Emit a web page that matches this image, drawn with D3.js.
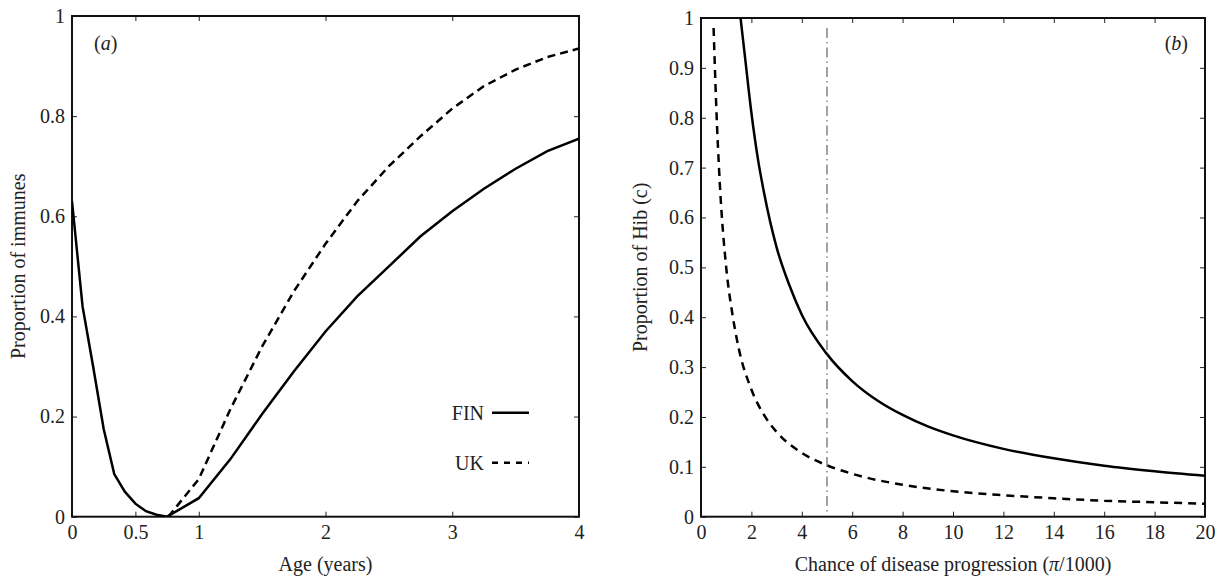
<!DOCTYPE html>
<html>
<head>
<meta charset="utf-8">
<script src="https://cdn.jsdelivr.net/npm/d3@7"></script>
<style>
  body { margin: 0; background: #fff; }
  svg { display: block; font-family: "Liberation Serif", "Times New Roman", serif; }
</style>
</head>
<body>
<svg width="1228" height="580"></svg>
<script>
// panel (a): proportion of immunes by age
const ageFin = [0, 1/12, 2/12, 3/12, 4/12, 5/12, 6/12, 7/12, 8/12, 9/12, 1, 1.25, 1.5, 1.75, 2, 2.25, 2.5, 2.75, 3, 3.25, 3.5, 3.75, 4];
const immFin = [0.63, 0.42, 0.30, 0.175, 0.085, 0.05, 0.026, 0.011, 0.004, 0.0, 0.037, 0.115, 0.205, 0.29, 0.37, 0.44, 0.50, 0.56, 0.61, 0.655, 0.695, 0.73, 0.755];
const ageUk = [0.76, 1, 1.25, 1.5, 1.75, 2, 2.25, 2.5, 2.75, 3, 3.25, 3.5, 3.75, 4];
const immUk = [0.0, 0.075, 0.215, 0.34, 0.45, 0.545, 0.63, 0.70, 0.76, 0.815, 0.86, 0.893, 0.918, 0.935];
const aTicksX = [0, 0.5, 1, 2, 3, 4];
const aTicksY = [0, 0.2, 0.4, 0.6, 0.8, 1];

// panel (b): proportion of Hib against chance of disease progression
const piFin = [1.57, 1.75, 2, 2.25, 2.5, 3, 3.5, 4, 5, 6, 7, 8, 9, 10, 12, 14, 16, 18, 20];
const hibFin = [1.0, 0.92, 0.81, 0.72, 0.65, 0.54, 0.465, 0.405, 0.326, 0.272, 0.233, 0.204, 0.181, 0.163, 0.136, 0.117, 0.102, 0.091, 0.082];
const piUk = [0.5, 0.6, 0.75, 1, 1.25, 1.5, 2, 2.5, 3, 4, 5, 6, 8, 10, 12, 14, 16, 18, 20];
const hibUk = [0.98, 0.83, 0.665, 0.5, 0.405, 0.337, 0.255, 0.204, 0.17, 0.128, 0.103, 0.086, 0.064, 0.051, 0.043, 0.037, 0.032, 0.029, 0.026];
const piMark = 5;
const bTicksX = d3.range(0, 21, 2);
const bTicksY = d3.range(0, 11).map(d => d / 10);

const legendItems = [
    {name: "FIN", dash: null},
    {name: "UK", dash: "6,6"}
];

const serif = "'Liberation Serif', 'Times New Roman', serif";
const svg = d3.select("svg");
const fmt = d => d3.format("~g")(d);

function panel(opts) {
    const x = d3.scaleLinear().domain(opts.xDomain).range([opts.left, opts.right]);
    const y = d3.scaleLinear().domain([0, 1]).range([opts.bottom, opts.top]);
    const g = svg.append("g");

    const clipId = "clip-" + opts.id;
    g.append("clipPath").attr("id", clipId)
        .append("rect")
        .attr("x", opts.left).attr("y", opts.top)
        .attr("width", opts.right - opts.left).attr("height", opts.bottom - opts.top);

    g.append("g").attr("transform", `translate(0,${opts.bottom})`)
        .call(d3.axisBottom(x).tickValues(opts.ticksX).tickSize(-5).tickPadding(8).tickFormat(fmt));
    g.append("g").attr("transform", `translate(0,${opts.top})`)
        .call(d3.axisTop(x).tickValues(opts.ticksX).tickSize(-5).tickFormat(""));
    g.append("g").attr("transform", `translate(${opts.left},0)`)
        .call(d3.axisLeft(y).tickValues(opts.ticksY).tickSize(-5).tickPadding(7).tickFormat(fmt));
    g.append("g").attr("transform", `translate(${opts.right},0)`)
        .call(d3.axisRight(y).tickValues(opts.ticksY).tickSize(-5).tickFormat(""));
    g.selectAll(".domain").remove();
    g.selectAll(".tick line").attr("stroke", "#222");
    g.selectAll(".tick text")
        .attr("font-family", serif)
        .attr("font-size", 20)
        .attr("fill", "#222");

    g.append("rect")
        .attr("x", opts.left).attr("y", opts.top)
        .attr("width", opts.right - opts.left).attr("height", opts.bottom - opts.top)
        .attr("fill", "none").attr("stroke", "#111").attr("stroke-width", 2);

    const plot = g.append("g").attr("clip-path", `url(#${clipId})`);
    opts.series.forEach(s => {
        const line = d3.line().x(d => x(d[0])).y(d => y(d[1])).curve(s.curve || d3.curveLinear);
        plot.append("path")
            .datum(d3.zip(s.xs, s.ys))
            .attr("d", line)
            .attr("fill", "none")
            .attr("stroke", "#000")
            .attr("stroke-width", 2.5)
            .attr("stroke-dasharray", s.dash);
    });

    // axis titles
    g.append("text")
        .attr("x", (opts.left + opts.right) / 2).attr("y", 571)
        .attr("text-anchor", "middle").attr("font-size", 20).attr("fill", "#222")
        .html(opts.xLabel);
    g.append("text")
        .attr("transform", `translate(${opts.yLabelX},${(opts.top + opts.bottom) / 2}) rotate(-90)`)
        .attr("text-anchor", "middle").attr("font-size", 20).attr("fill", "#222")
        .text(opts.yLabel);

    // panel letter
    const lab = g.append("text")
        .attr("x", opts.tagX).attr("y", 50)
        .attr("text-anchor", opts.tagAnchor).attr("font-size", 20).attr("fill", "#222");
    lab.append("tspan").text("(");
    lab.append("tspan").attr("font-style", "italic").text(opts.tag);
    lab.append("tspan").text(")");

    return {x, y, g};
}

panel({
    id: "a", left: 72, right: 579, top: 16, bottom: 516.7,
    xDomain: [0, 4], ticksX: aTicksX, ticksY: aTicksY,
    xLabel: "Age (years)", yLabel: "Proportion of immunes", yLabelX: 25,
    tag: "a", tagX: 94, tagAnchor: "start",
    series: [
        {xs: ageFin, ys: immFin, dash: null},
        {xs: ageUk, ys: immUk, dash: "8,5"}
    ]
});

const pb = panel({
    id: "b", left: 701, right: 1205, top: 18, bottom: 516.7,
    xDomain: [0, 20], ticksX: bTicksX, ticksY: bTicksY,
    xLabel: "Chance of disease progression (<tspan font-style='italic'>π</tspan>/1000)",
    yLabel: "Proportion of Hib (c)", yLabelX: 647,
    tag: "b", tagX: 1188, tagAnchor: "end",
    series: [
        {xs: piFin, ys: hibFin, dash: null, curve: d3.curveMonotoneX},
        {xs: piUk, ys: hibUk, dash: "8,6", curve: d3.curveMonotoneX}
    ]
});

// vertical marker in panel (b)
pb.g.append("line")
    .attr("x1", pb.x(piMark)).attr("x2", pb.x(piMark))
    .attr("y1", pb.y(0.98)).attr("y2", pb.y(0.01))
    .attr("stroke", "#444").attr("stroke-width", 1)
    .attr("stroke-dasharray", "10,4,1.5,4");

// legend in panel (a)
const legend = svg.append("g").selectAll("g")
    .data(legendItems)
    .join("g")
    .attr("transform", (d, i) => `translate(0,${412.7 + i * 50})`);
legend.append("text")
    .attr("x", 484).attr("y", 7).attr("text-anchor", "end")
    .attr("font-size", 20).attr("fill", "#222")
    .text(d => d.name);
legend.append("line")
    .attr("x1", 492).attr("x2", 529)
    .attr("stroke", "#000").attr("stroke-width", 2.5)
    .attr("stroke-dasharray", d => d.dash);
</script>
</body>
</html>
